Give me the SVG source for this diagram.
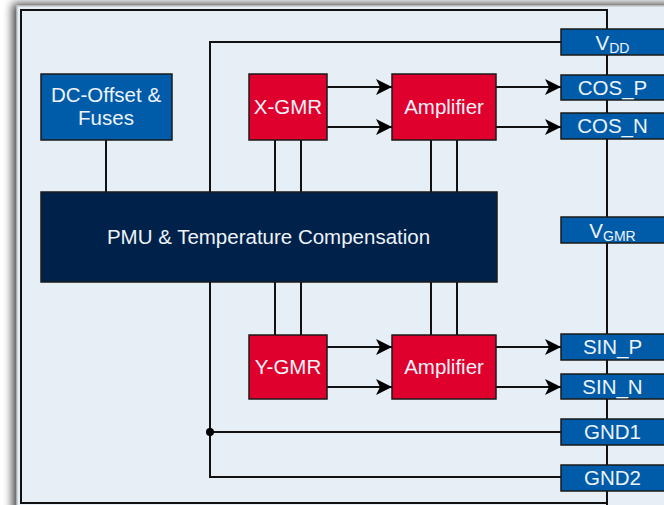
<svg xmlns="http://www.w3.org/2000/svg" width="664" height="505" viewBox="0 0 664 505">
<defs>
<style>
.lbl{font-family:"Liberation Sans",Arial,sans-serif;font-size:20.5px;fill:#eef3f8;text-anchor:middle}
.sub{font-size:14px}
.pin{fill:#005ca9;stroke:#1a1a1a;stroke-width:1.5}
.red{fill:#e0002e;stroke:#1a1a1a;stroke-width:1.5}
.wire{fill:none;stroke:#111;stroke-width:2}
</style>
<marker id="ah" viewBox="0 0 16 16" refX="16" refY="8" markerWidth="16" markerHeight="16" markerUnits="userSpaceOnUse" orient="auto">
<path d="M0,0 L16,8 L0,16 L4,8 Z" fill="#000"/>
</marker>
<filter id="sh" x="-10%" y="-10%" width="120%" height="120%">
<feGaussianBlur in="SourceAlpha" stdDeviation="5"/>
<feOffset dx="-4" dy="-2"/>
<feComponentTransfer><feFuncA type="linear" slope="0.75"/></feComponentTransfer>
<feMerge><feMergeNode/><feMergeNode in="SourceGraphic"/></feMerge>
</filter>
</defs>
<rect width="664" height="505" fill="#ffffff"/>
<rect x="17" y="6" width="680" height="520" fill="#e6eef6" stroke="#b8bcc0" stroke-width="1" filter="url(#sh)"/>
<rect x="21" y="10" width="586" height="493" fill="none" stroke="#111" stroke-width="2"/>

<g id="connectors">
<line class="wire" x1="607" y1="10" x2="607" y2="505"/>
<polyline class="wire" points="561,42 210,42 210,192"/>
<polyline class="wire" points="210,282 210,477 561,477"/>
<line class="wire" x1="210" y1="432" x2="561" y2="432"/>
<circle cx="210" cy="432" r="4" fill="#000"/>
<line class="wire" x1="106" y1="140" x2="106" y2="192"/>
<line class="wire" x1="275" y1="140" x2="275" y2="192"/>
<line class="wire" x1="301" y1="140" x2="301" y2="192"/>
<line class="wire" x1="431" y1="140" x2="431" y2="192"/>
<line class="wire" x1="457" y1="140" x2="457" y2="192"/>
<line class="wire" x1="275" y1="282" x2="275" y2="335"/>
<line class="wire" x1="301" y1="282" x2="301" y2="335"/>
<line class="wire" x1="431" y1="282" x2="431" y2="335"/>
<line class="wire" x1="457" y1="282" x2="457" y2="335"/>
<line class="wire" x1="327" y1="87" x2="392" y2="87" marker-end="url(#ah)"/>
<line class="wire" x1="327" y1="127" x2="392" y2="127" marker-end="url(#ah)"/>
<line class="wire" x1="496" y1="87" x2="561" y2="87" marker-end="url(#ah)"/>
<line class="wire" x1="496" y1="127" x2="561" y2="127" marker-end="url(#ah)"/>
<line class="wire" x1="327" y1="347" x2="392" y2="347" marker-end="url(#ah)"/>
<line class="wire" x1="327" y1="387" x2="392" y2="387" marker-end="url(#ah)"/>
<line class="wire" x1="496" y1="347" x2="561" y2="347" marker-end="url(#ah)"/>
<line class="wire" x1="496" y1="387" x2="561" y2="387" marker-end="url(#ah)"/>
</g>

<g id="dcoffset">
<rect class="pin" x="41" y="74" width="131" height="66"/>
<text class="lbl" x="106" y="102">DC-Offset &amp;</text>
<text class="lbl" x="106" y="125">Fuses</text>
</g>
<g id="pmu">
<rect x="41" y="192" width="456" height="90" fill="#00214a" stroke="#1a1a1a" stroke-width="1.5"/>
<text class="lbl" x="268.5" y="244">PMU &amp; Temperature Compensation</text>
</g>
<g id="xgmr">
<rect class="red" x="249" y="74" width="78" height="66"/>
<text class="lbl" x="288" y="114">X-GMR</text>
</g>
<g id="amp1">
<rect class="red" x="392" y="74" width="104" height="66"/>
<text class="lbl" x="444" y="114">Amplifier</text>
</g>
<g id="ygmr">
<rect class="red" x="249" y="335" width="78" height="64"/>
<text class="lbl" x="288" y="374">Y-GMR</text>
</g>
<g id="amp2">
<rect class="red" x="392" y="335" width="104" height="64"/>
<text class="lbl" x="444" y="374">Amplifier</text>
</g>

<g id="pin-vdd">
<rect class="pin" x="561" y="29" width="110" height="26"/>
<text class="lbl" x="612.5" y="50">V<tspan class="sub" dy="3">DD</tspan></text>
</g>
<g id="pin-cosp">
<rect class="pin" x="561" y="75" width="110" height="25"/>
<text class="lbl" x="612.5" y="95">COS_P</text>
</g>
<g id="pin-cosn">
<rect class="pin" x="561" y="113" width="110" height="26"/>
<text class="lbl" x="612.5" y="133">COS_N</text>
</g>
<g id="pin-vgmr">
<rect class="pin" x="561" y="217" width="110" height="26"/>
<text class="lbl" x="612.5" y="238">V<tspan class="sub" dy="3">GMR</tspan></text>
</g>
<g id="pin-sinp">
<rect class="pin" x="561" y="334" width="110" height="26"/>
<text class="lbl" x="612.5" y="354">SIN_P</text>
</g>
<g id="pin-sinn">
<rect class="pin" x="561" y="374" width="110" height="25"/>
<text class="lbl" x="612.5" y="394">SIN_N</text>
</g>
<g id="pin-gnd1">
<rect class="pin" x="561" y="419" width="110" height="26"/>
<text class="lbl" x="612.5" y="439">GND1</text>
</g>
<g id="pin-gnd2">
<rect class="pin" x="561" y="465" width="110" height="26"/>
<text class="lbl" x="612.5" y="485">GND2</text>
</g>
</svg>
